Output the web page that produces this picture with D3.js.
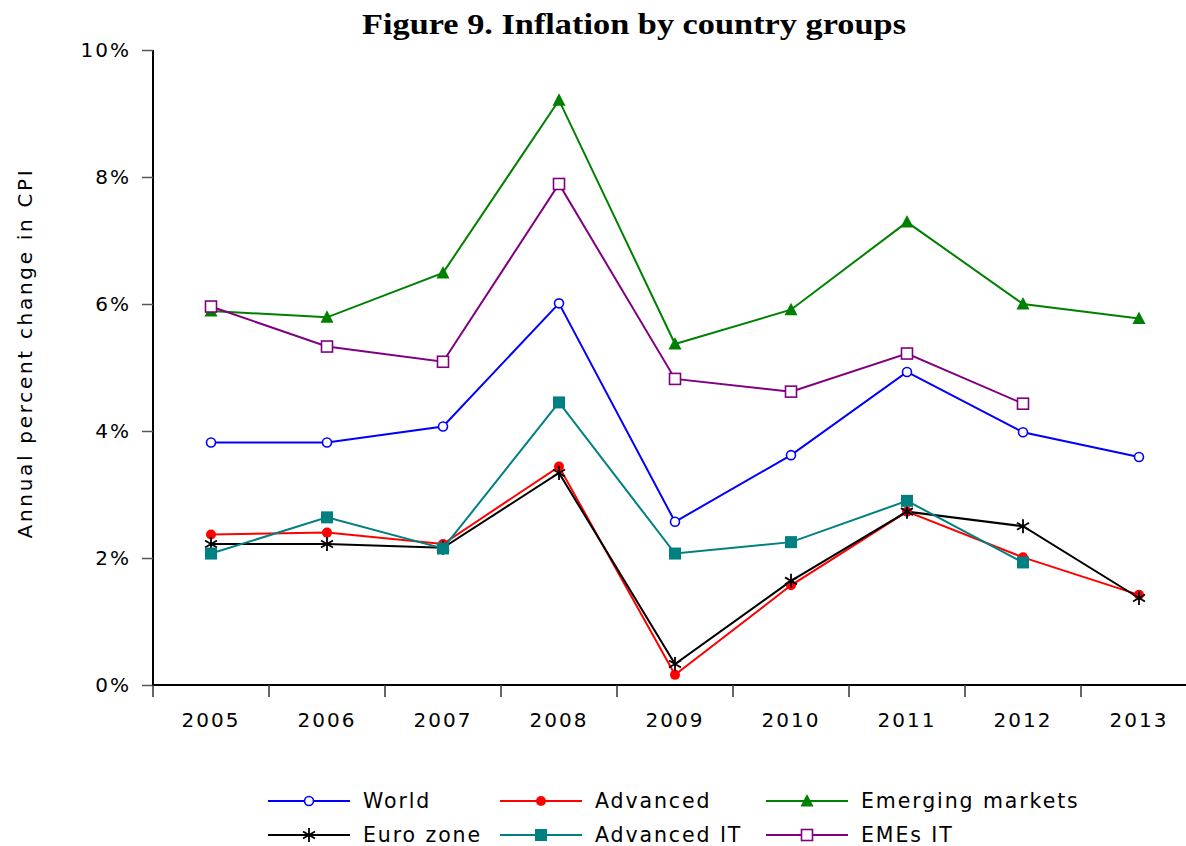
<!DOCTYPE html>
<html><head><meta charset="utf-8">
<script src="https://cdn.jsdelivr.net/npm/d3@7"></script>
<style>
body{margin:0;background:#fff;}
svg{display:block;}
</style></head>
<body>
<svg id="chart" width="1186" height="846"></svg>
<script>
const years = ["2005","2006","2007","2008","2009","2010","2011","2012","2013"];
const world      = [3.82, 3.82, 4.07, 6.01, 2.57, 3.62, 4.93, 3.98, 3.59];
const advanced   = [2.37, 2.40, 2.22, 3.44, 0.16, 1.57, 2.73, 2.01, 1.42];
const emerging   = [5.89, 5.79, 6.49, 9.21, 5.37, 5.91, 7.29, 6.00, 5.77];
const euroZone   = [2.22, 2.22, 2.16, 3.34, 0.33, 1.64, 2.73, 2.50, 1.37];
const advancedIT = [2.07, 2.64, 2.15, 4.45, 2.07, 2.25, 2.90, 1.93, null];
const emesIT     = [5.96, 5.33, 5.09, 7.89, 4.82, 4.62, 5.22, 4.43, null];
const yTicks = [0, 2, 4, 6, 8, 10];

const seriesNames = ["World","Advanced","Emerging markets","Euro zone","Advanced IT","EMEs IT"];
const seriesData = [world, advanced, emerging, euroZone, advancedIT, emesIT];
const colors = ["#0000FF","#FF0000","#008000","#000000","#008080","#800080"];
const markers = ["openCircle","dot","triangle","star","square","openSquare"];

const svg = d3.select("#chart");
const x = d3.scaleBand().domain(years).range([153, 153 + 9*116]).padding(0);
const y = d3.scaleLinear().domain([0, 10]).range([685, 50]);
const font = "'DejaVu Sans', Verdana, sans-serif";

// title
svg.append("text").attr("x", 634).attr("y", 34).attr("text-anchor","middle")
  .attr("font-family","'Liberation Serif', 'DejaVu Serif', serif").attr("font-weight","bold")
  .attr("font-size", 30).attr("textLength", 544).attr("lengthAdjust","spacingAndGlyphs")
  .attr("fill","#000").text("Figure 9.  Inflation by country groups");

// y axis
const yAxis = svg.append("g").attr("transform","translate(153,0)")
  .call(d3.axisLeft(y).tickValues(yTicks).tickSize(11).tickPadding(11).tickFormat(d => d + "%"));
yAxis.select(".domain").attr("stroke","#000").attr("stroke-width",2).attr("d","M0,50V686");
yAxis.selectAll(".tick line").attr("stroke","#555").attr("stroke-width",1.5);
yAxis.selectAll(".tick text").attr("font-family",font).attr("font-size",20)
  .attr("letter-spacing","2px").attr("fill","#000");

// x axis
const xAxis = svg.append("g").attr("transform","translate(0,685)")
  .call(d3.axisBottom(x).tickSize(0).tickPadding(28));
xAxis.select(".domain").attr("stroke","#000").attr("stroke-width",2).attr("d","M152,0H1197");
xAxis.selectAll(".tick text").attr("font-family",font).attr("font-size",20)
  .attr("letter-spacing","2px").attr("fill","#000");
svg.append("g").selectAll("line").data(years).join("line")
  .attr("x1", d => x(d)).attr("x2", d => x(d)).attr("y1", 685).attr("y2", 697)
  .attr("stroke","#333").attr("stroke-width",1.5);

// y axis label
svg.append("text").attr("transform","translate(32,353) rotate(-90)")
  .attr("text-anchor","middle").attr("font-family",font).attr("font-size",20)
  .attr("letter-spacing","2.7px").attr("fill","#000").text("Annual percent change in CPI");

function drawMarker(g, type, color) {
  if (type === "openCircle") {
    g.append("circle").attr("r",4.5).attr("fill","#fff").attr("stroke",color).attr("stroke-width",1.6);
  } else if (type === "dot") {
    g.append("circle").attr("r",5).attr("fill",color);
  } else if (type === "triangle") {
    g.append("path").attr("d","M0,-7L6.5,5.5L-6.5,5.5Z").attr("fill",color);
  } else if (type === "star") {
    g.append("path").attr("d","M0,-7V7M-6,-3.5L6,3.5M-6,3.5L6,-3.5").attr("stroke",color).attr("stroke-width",1.8);
  } else if (type === "square") {
    g.append("rect").attr("x",-6).attr("y",-6).attr("width",12).attr("height",12).attr("fill",color);
  } else if (type === "openSquare") {
    g.append("rect").attr("x",-5.5).attr("y",-5.5).attr("width",11).attr("height",11)
      .attr("fill","#fff").attr("stroke",color).attr("stroke-width",1.6);
  }
}

const line = d3.line().defined(d => d.v !== null).x(d => x(d.year) + x.bandwidth()/2).y(d => y(d.v));
const plot = svg.append("g");
seriesData.forEach((vals, i) => {
  const pts = years.map((yr, j) => ({year: yr, v: vals[j]}));
  plot.append("path").datum(pts).attr("d", line).attr("fill","none")
    .attr("stroke", colors[i]).attr("stroke-width", 2);
});
seriesData.forEach((vals, i) => {
  const pts = years.map((yr, j) => ({year: yr, v: vals[j]})).filter(d => d.v !== null);
  pts.forEach(p => {
    const g = plot.append("g").attr("transform", `translate(${x(p.year) + x.bandwidth()/2},${y(p.v)})`);
    drawMarker(g, markers[i], colors[i]);
  });
});

// legend
const legX = [268, 500, 766];
const legY = [801, 835];
seriesNames.forEach((name, i) => {
  const cx = legX[i % 3], cy = legY[Math.floor(i / 3)];
  const g = svg.append("g");
  g.append("line").attr("x1", cx).attr("x2", cx + 82).attr("y1", cy).attr("y2", cy)
    .attr("stroke", colors[i]).attr("stroke-width", 2);
  const m = g.append("g").attr("transform", `translate(${cx + 41},${cy})`);
  drawMarker(m, markers[i], colors[i]);
  g.append("text").attr("x", cx + 95).attr("y", cy + 7).attr("font-family", font)
    .attr("font-size", 20.5).attr("letter-spacing","1.9px").attr("fill","#000").text(name);
});
</script>
</body></html>
